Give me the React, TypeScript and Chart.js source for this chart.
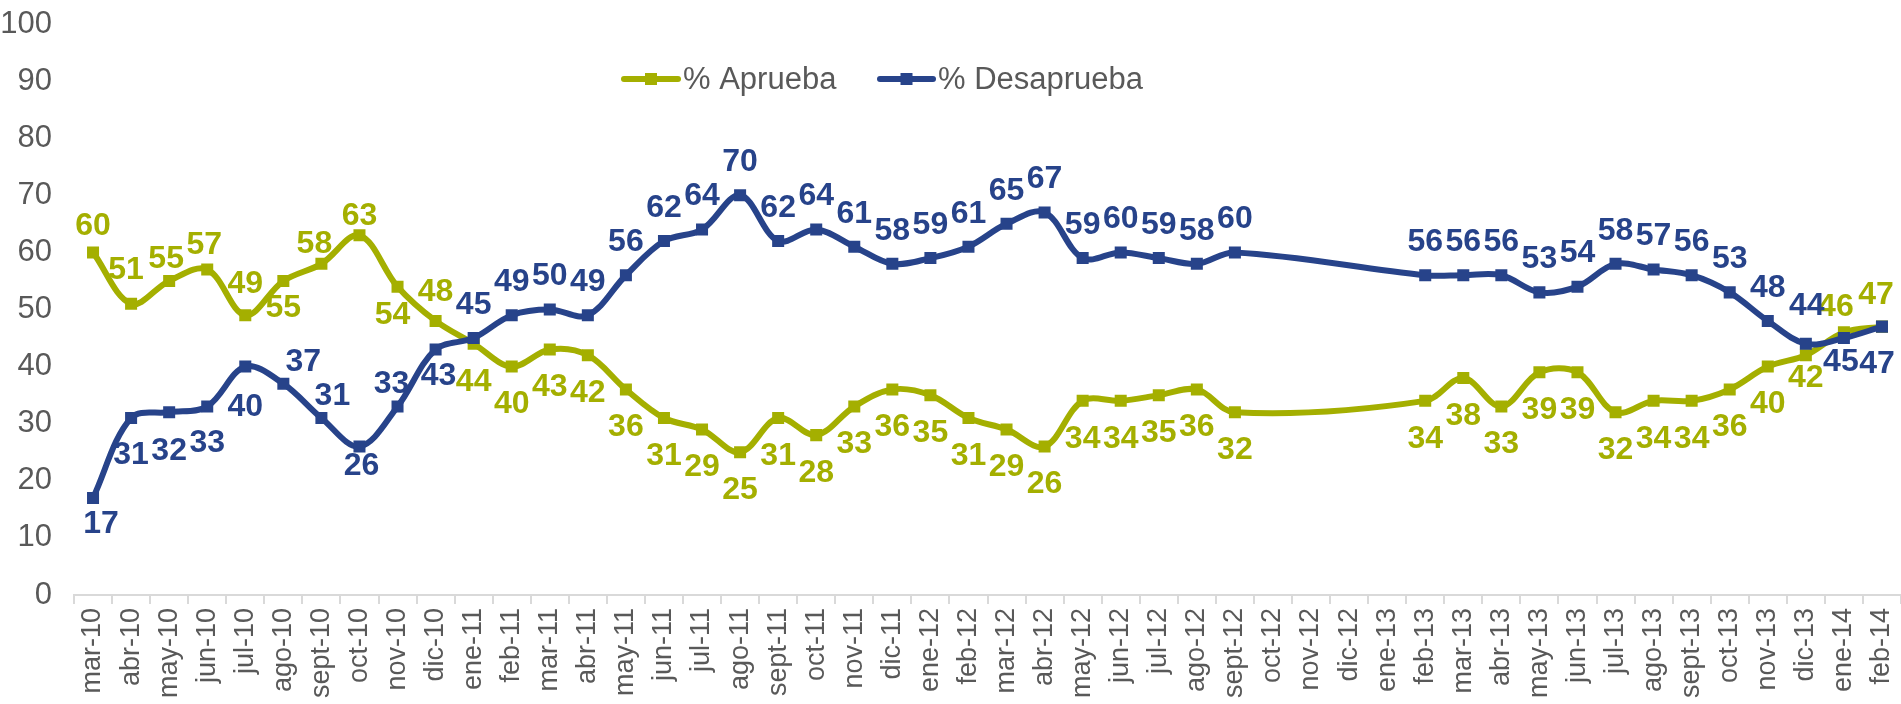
import React, { useEffect, useRef } from 'react';
import { Chart, registerables } from 'chart.js';

Chart.register(...registerables);

const categories = [
  'mar-10', 'abr-10', 'may-10', 'jun-10', 'jul-10', 'ago-10', 'sept-10', 'oct-10', 'nov-10', 'dic-10',
  'ene-11', 'feb-11', 'mar-11', 'abr-11', 'may-11', 'jun-11', 'jul-11', 'ago-11', 'sept-11', 'oct-11', 'nov-11', 'dic-11',
  'ene-12', 'feb-12', 'mar-12', 'abr-12', 'may-12', 'jun-12', 'jul-12', 'ago-12', 'sept-12', 'oct-12', 'nov-12', 'dic-12',
  'ene-13', 'feb-13', 'mar-13', 'abr-13', 'may-13', 'jun-13', 'jul-13', 'ago-13', 'sept-13', 'oct-13', 'nov-13', 'dic-13',
  'ene-14', 'feb-14',
];

const aprueba: (number | null)[] = [
  60, 51, 55, 57, 49, 55, 58, 63, 54, 48,
  44, 40, 43, 42, 36, 31, 29, 25, 31, 28, 33, 36,
  35, 31, 29, 26, 34, 34, 35, 36, 32, null, null, null,
  null, 34, 38, 33, 39, 39, 32, 34, 34, 36, 40, 42,
  46, 47,
];

const desaprueba: (number | null)[] = [
  17, 31, 32, 33, 40, 37, 31, 26, 33, 43,
  45, 49, 50, 49, 56, 62, 64, 70, 62, 64, 61, 58,
  59, 61, 65, 67, 59, 60, 59, 58, 60, null, null, null,
  null, 56, 56, 56, 53, 54, 58, 57, 56, 53, 48, 44,
  45, 47,
];

// value-label placement relative to the point: 'T' above, 'B' below, or explicit [dx, dy]
type Place = 'T' | 'B' | [number, number];
const apruebaLabelPos: Place[] = [
  [0, -27], [-5, -35], [-3, -23], [-3, -25], [0, -32], [0, 26], [-7, -21], [0, -20], [-5, 28], [0, -30],
  'B', 'B', 'B', 'B', 'B', 'B', 'B', 'B', 'B', 'B', 'B', 'B',
  'B', 'B', 'B', 'B', 'B', 'B', 'B', 'B', 'B', 'B', 'B', 'B',
  'B', 'B', 'B', 'B', 'B', 'B', 'B', 'B', 'B', 'B', 'B', [0, 22],
  [-8, -26], [-6, -32],
];

const desapruebaLabelPos: Place[] = [
  [8, 25], [0, 36], [0, 38], [0, 36], [0, 40], [20, -23], [11, -23], [2, 19], [-6, -23], [3, 26],
  'T', 'T', 'T', 'T', 'T', 'T', 'T', 'T', 'T', 'T', 'T', 'T',
  'T', 'T', 'T', 'T', 'T', 'T', 'T', 'T', 'T', 'T', 'T', 'T',
  'T', 'T', 'T', 'T', 'T', 'T', 'T', 'T', 'T', 'T', 'T', [1, -39],
  [-3, 23], [-5, 37],
];

const seriesNames = ['% Aprueba', '% Desaprueba'];
const GREEN = '#A4AF00';
const BLUE = '#27438A';
const TEXT = '#595959';
const FONT = "'Liberation Sans', Arial, sans-serif";

const valueLabels = {
  id: 'valueLabels',
  afterDatasetsDraw(chart: any) {
    const ctx = chart.ctx;
    ctx.save();
    ctx.font = `bold 32px ${FONT}`;
    ctx.textAlign = 'center';
    ctx.textBaseline = 'middle';
    chart.data.datasets.forEach((ds: any, di: number) => {
      const meta = chart.getDatasetMeta(di);
      ctx.fillStyle = ds.borderColor;
      meta.data.forEach((pt: any, i: number) => {
        const v = ds.data[i];
        if (v == null) return;
        const p = ds.labelPos[i];
        let dx = 0;
        let dy = 0;
        if (p === 'T') dy = -34;
        else if (p === 'B') dy = 37;
        else { dx = p[0]; dy = p[1]; }
        ctx.fillText(String(v), pt.x + dx, pt.y + dy + 1);
      });
    });
    ctx.restore();
  },
};

const customLegend = {
  id: 'customLegend',
  afterDraw(chart: any) {
    const ctx = chart.ctx;
    const items = [
      { name: seriesNames[0], color: GREEN, x1: 624, x2: 678, tx: 683 },
      { name: seriesNames[1], color: BLUE, x1: 880, x2: 933, tx: 938 },
    ];
    const y = 79;
    ctx.save();
    items.forEach((it) => {
      ctx.strokeStyle = it.color;
      ctx.lineWidth = 6;
      ctx.lineCap = 'round';
      ctx.beginPath();
      ctx.moveTo(it.x1, y);
      ctx.lineTo(it.x2, y);
      ctx.stroke();
      ctx.fillStyle = it.color;
      const m = (it.x1 + it.x2) / 2;
      ctx.fillRect(m - 6, y - 6, 12, 12);
      ctx.fillStyle = TEXT;
      ctx.font = `31px ${FONT}`;
      ctx.textAlign = 'left';
      ctx.textBaseline = 'middle';
      ctx.fillText(it.name, it.tx, y + 1);
    });
    ctx.restore();
  },
};

export default function App() {
  const ref = useRef<HTMLCanvasElement>(null);

  useEffect(() => {
    document.body.style.margin = '0';
    document.body.style.overflow = 'hidden';
    if (!ref.current) return;
    const chart = new Chart(ref.current, {
      type: 'line',
      data: {
        labels: categories,
        datasets: [
          {
            label: seriesNames[0],
            data: aprueba,
            borderColor: GREEN,
            backgroundColor: GREEN,
            borderWidth: 6,
            pointStyle: 'rect',
            pointRadius: 8.5,
            pointBorderWidth: 0,
            tension: 0.35,
            spanGaps: true,
            order: 1,
            labelPos: apruebaLabelPos,
          } as any,
          {
            label: seriesNames[1],
            data: desaprueba,
            borderColor: BLUE,
            backgroundColor: BLUE,
            borderWidth: 6,
            pointStyle: 'rect',
            pointRadius: 8.5,
            pointBorderWidth: 0,
            tension: 0.35,
            spanGaps: true,
            order: 0,
            labelPos: desapruebaLabelPos,
          } as any,
        ],
      },
      options: {
        responsive: false,
        animation: false,
        layout: { autoPadding: false, padding: { top: 0, left: 0, bottom: 0, right: -2 } },
        plugins: {
          legend: { display: false },
          tooltip: { enabled: false },
        },
        scales: {
          x: {
            type: 'category',
            offset: true,
            grid: {
              offset: true,
              drawOnChartArea: false,
              drawTicks: true,
              tickLength: 9,
              color: '#D9D9D9',
              lineWidth: 2,
            },
            border: { display: true, color: '#D9D9D9', width: 2 },
            ticks: {
              autoSkip: false,
              minRotation: 90,
              maxRotation: 90,
              padding: 4,
              color: TEXT,
              font: { family: FONT, size: 27 },
            },
            afterFit: (scale: any) => {
              scale.height = 109;
              scale.paddingLeft = 0;
              scale.paddingRight = 0;
            },
          },
          y: {
            min: 0,
            max: 100,
            grid: { display: false, drawTicks: false },
            border: { display: false },
            ticks: {
              stepSize: 10,
              padding: 22,
              color: TEXT,
              font: { family: FONT, size: 31 },
            },
            afterFit: (scale: any) => {
              scale.width = 74;
              scale.paddingTop = 24;
              scale.paddingBottom = 0;
            },
          },
        },
      },
      plugins: [valueLabels, customLegend],
    });
    return () => chart.destroy();
  }, []);

  return (
    <div style={{ width: 1901, height: 704, overflow: 'hidden' }}>
      <canvas ref={ref} width={1901} height={704} style={{ display: 'block' }} />
    </div>
  );
}
